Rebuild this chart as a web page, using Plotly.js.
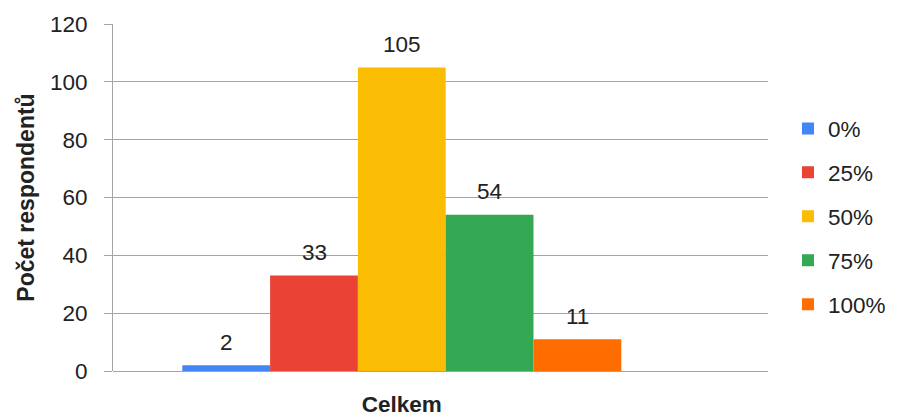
<!DOCTYPE html>
<html>
<head>
<meta charset="utf-8">
<script src="https://cdn.plot.ly/plotly-3.0.1.min.js"></script>
<style>
  html, body { margin: 0; padding: 0; background: #ffffff; }
  #chart { width: 897px; height: 419px; }
</style>
</head>
<body>
<div id="chart"></div>
<script>
// Respondents by answer share, a single "Celkem" (total) group
const categories = ['Celkem'];
const seriesNames = ['0%', '25%', '50%', '75%', '100%'];
const seriesValues = [2, 33, 105, 54, 11];
const seriesColors = ['#4285F4', '#EA4335', '#FBBC04', '#34A853', '#FF6D01'];
const yTickValues = [0, 20, 40, 60, 80, 100, 120];

const FONT = 'Liberation Sans, Arial, sans-serif';
const TEXT_COLOR = '#222222';
const GRID_COLOR = '#a4a4a4';
const BAR_GAP = 0.24;

const traces = seriesNames.map((name, i) => ({
  type: 'bar',
  name: name,
  legendgroup: name,
  x: categories,
  y: [seriesValues[i]],
  marker: { color: seriesColors[i], line: { width: 0 } },
  hovertemplate: name + ': %{y}<extra></extra>'
}));

// Value labels above each bar, placed at the centre of its slot in the group
const groupWidth = 1 - BAR_GAP;
const slot = groupWidth / seriesNames.length;
const valueLabels = seriesValues.map((v, i) => ({
  xref: 'x', yref: 'y',
  x: -groupWidth / 2 + slot * (i + 0.5),
  y: v,
  text: String(v),
  showarrow: false,
  xanchor: 'center',
  yanchor: 'middle',
  yshift: 23,
  font: { family: FONT, size: 22.5, color: TEXT_COLOR }
}));

const layout = {
  width: 897,
  height: 419,
  margin: { l: 113, r: 129, t: 24, b: 48, pad: 0, autoexpand: false },
  paper_bgcolor: '#ffffff',
  plot_bgcolor: '#ffffff',
  font: { family: FONT, size: 22.5, color: TEXT_COLOR },
  barmode: 'group',
  bargap: BAR_GAP,
  bargroupgap: 0,
  showlegend: true,
  legend: {
    x: 1.0305, xanchor: 'left',
    y: 0.76, yanchor: 'top',
    traceorder: 'grouped',
    tracegroupgap: 11.7,
    font: { family: FONT, size: 22.5, color: TEXT_COLOR },
    bgcolor: 'rgba(0,0,0,0)',
    borderwidth: 0
  },
  xaxis: {
    type: 'category',
    range: [-0.5, 0.634],
    showgrid: false,
    zeroline: false,
    showline: false,
    ticks: '',
    tickfont: { family: FONT, size: 22.5, color: TEXT_COLOR, weight: 'bold' },
    ticklabelstandoff: 17,
    fixedrange: true
  },
  yaxis: {
    range: [0, 120],
    tickvals: yTickValues,
    ticktext: yTickValues.map(String),
    showgrid: true,
    gridcolor: GRID_COLOR,
    gridwidth: 1,
    zeroline: true,
    zerolinecolor: GRID_COLOR,
    zerolinewidth: 1,
    showline: true,
    linecolor: GRID_COLOR,
    linewidth: 1,
    ticks: 'outside',
    ticklen: 8,
    tickcolor: GRID_COLOR,
    tickwidth: 1,
    ticklabelstandoff: 12,
    tickfont: { family: FONT, size: 22.5, color: TEXT_COLOR },
    title: {
      text: 'Počet respondentů',
      font: { family: FONT, size: 23, color: TEXT_COLOR, weight: 'bold' },
      standoff: 8
    },
    fixedrange: true
  },
  annotations: valueLabels
};

Plotly.newPlot('chart', traces, layout, { displayModeBar: false, staticPlot: true });
</script>
</body>
</html>
